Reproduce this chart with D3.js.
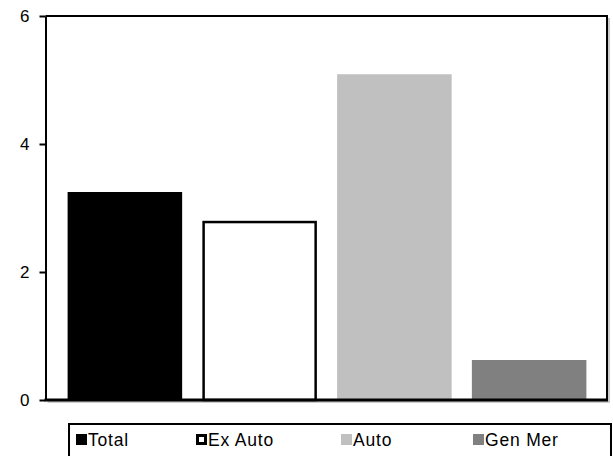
<!DOCTYPE html>
<html>
<head>
<meta charset="utf-8">
<script src="https://cdn.jsdelivr.net/npm/d3@7"></script>
<style>
  body { margin: 0; background: #fff; }
  svg text { font-family: "Liberation Sans", Arial, sans-serif; }
</style>
</head>
<body>
<div class="graph"></div>
<script>
// data
var categories = ['Total', 'Ex Auto', 'Auto', 'Gen Mer'];
var values = [3.25, 2.8, 5.09, 0.625];
var yTicks = [0, 2, 4, 6];

var fills = ['#000000', '#ffffff', '#c0c0c0', '#808080'];
var strokes = ['none', '#000000', 'none', 'none'];

var w = 613, h = 456;
var svg = d3.select('div.graph').append('svg')
    .attr('width', w).attr('height', h);

// plot area
var plt = {left: 45.5, right: 607, top: 16, bottom: 400};

var x = d3.scaleBand().domain(categories)
    .range([57.5, 596.5]).paddingInner(0.15).paddingOuter(0.075);
var y = d3.scaleLinear().domain([0, 6]).range([plt.bottom, plt.top]);

// border shadow
svg.append('path')
    .attr('d', 'M' + (plt.right + 2) + ',' + (plt.top + 2) + 'V' + (plt.bottom + 2) + 'H' + (plt.left + 2))
    .attr('fill', 'none').attr('stroke', '#bbb').attr('stroke-width', 1.5);

// bars
svg.selectAll('.bar')
    .data(categories)
    .enter().append('rect')
    .attr('class', 'bar')
    .attr('x', function(d){ return x(d); })
    .attr('width', x.bandwidth())
    .attr('y', function(d, i){ return y(values[i]); })
    .attr('height', function(d, i){ return y(0) - y(values[i]); })
    .attr('fill', function(d, i){ return fills[i]; });

// outlined bar drawn with inset stroke
svg.selectAll('.outline')
    .data(categories.filter(function(d, i){ return strokes[i] != 'none'; }))
    .enter().append('rect')
    .attr('class', 'outline')
    .attr('x', function(d){ return x(d) + 1.25; })
    .attr('width', x.bandwidth() - 2.5)
    .attr('y', function(d){ return y(values[categories.indexOf(d)]) + 1.25; })
    .attr('height', function(d){ return y(0) - y(values[categories.indexOf(d)]) - 1.25; })
    .attr('fill', 'none').attr('stroke', '#000').attr('stroke-width', 2.5);

// top and right border
svg.append('path')
    .attr('d', 'M' + plt.left + ',' + plt.top + 'H' + plt.right + 'V' + plt.bottom)
    .attr('fill', 'none').attr('stroke', '#000').attr('stroke-width', 2);

// y axis
var yAxis = d3.axisLeft(y).tickValues(yTicks).tickFormat(d3.format('d'))
    .tickSize(6).tickPadding(10).tickSizeOuter(0);
var yG = svg.append('g').attr('transform', 'translate(' + plt.left + ',0)').call(yAxis);
yG.select('.domain').attr('stroke-width', 2);
yG.selectAll('.tick line').attr('stroke-width', 2);
yG.selectAll('.tick text').attr('font-size', 17).attr('fill', '#000')
    .attr('font-family', '"Liberation Sans", Arial, sans-serif');

// x axis line
svg.append('line')
    .attr('x1', plt.left - 1).attr('x2', plt.right + 1)
    .attr('y1', plt.bottom).attr('y2', plt.bottom)
    .attr('stroke', '#000').attr('stroke-width', 3);

// legend
var lg = svg.append('g');
lg.append('rect').attr('x', 69).attr('y', 424).attr('width', 542).attr('height', 40)
    .attr('fill', '#fff').attr('stroke', '#000').attr('stroke-width', 2);
var legX = [76, 196, 341, 473];
var item = lg.selectAll('.item').data(categories).enter().append('g')
    .attr('class', 'item')
    .attr('transform', function(d, i){ return 'translate(' + legX[i] + ',0)'; });
item.append('rect')
    .attr('x', function(d, i){ return strokes[i] != 'none' ? 1.5 : 0; })
    .attr('y', function(d, i){ return strokes[i] != 'none' ? 435.5 : 434; })
    .attr('width', function(d, i){ return strokes[i] != 'none' ? 8 : 11; })
    .attr('height', function(d, i){ return strokes[i] != 'none' ? 8 : 11; })
    .attr('fill', function(d, i){ return fills[i]; })
    .attr('stroke', function(d, i){ return strokes[i]; })
    .attr('stroke-width', 3);
item.append('text')
    .attr('x', 12).attr('y', 446)
    .attr('font-size', 17.5)
    .attr('letter-spacing', 0.8)
    .text(function(d){ return d; });
</script>
</body>
</html>
